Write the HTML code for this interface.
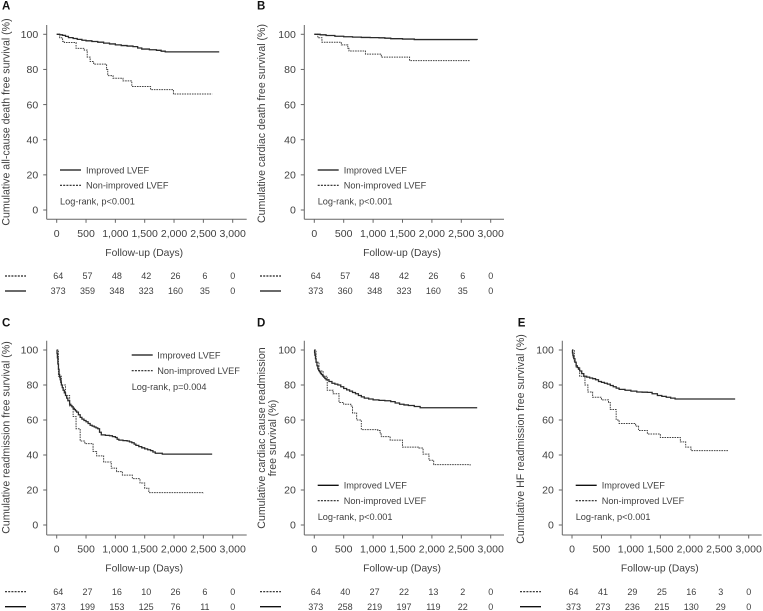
<!DOCTYPE html>
<html lang="en">
<head>
<meta charset="utf-8">
<title>Kaplan-Meier survival curves</title>
<style>
html,body{margin:0;padding:0;background:#fff;}
svg{display:block;font-family:"Liberation Sans",Arial,sans-serif;}
text{fill:#404040;}
</style>
</head>
<body>
<svg id="chart" xmlns="http://www.w3.org/2000/svg" width="763" height="611" viewBox="0 0 763 611"></svg>
<script>
const xTicks = [0, 500, 1000, 1500, 2000, 2500, 3000];
const xTickLabels = ['0', '500', '1,000', '1,500', '2,000', '2,500', '3,000'];
const yTicks = [0, 20, 40, 60, 80, 100];

const aImprovedDays = [0, 50, 100, 150, 200, 280, 350, 430, 500, 600, 700, 800, 900, 1000, 1100, 1200, 1300, 1380, 1450, 1580, 1700, 1780, 1850, 2770];
const aImprovedSurv = [100, 99.7, 99.4, 98.8, 98.1, 97.6, 97.1, 96.6, 96.3, 95.9, 95.5, 95, 94.5, 94, 93.6, 93.3, 93, 92.2, 91.6, 91.2, 90.9, 90.4, 90, 90];
const aNonDays = [0, 50, 100, 130, 330, 470, 520, 570, 630, 850, 870, 960, 1130, 1280, 1600, 1990, 2650];
const aNonSurv = [100, 98, 96, 95.3, 92, 91, 87, 84.5, 83, 80, 76.5, 75, 73.5, 70.3, 68.5, 66, 66];
const aRiskNon = [64, 57, 48, 42, 26, 6, 0];
const aRiskImproved = [373, 359, 348, 323, 160, 35, 0];

const bImprovedDays = [0, 100, 200, 350, 500, 650, 800, 950, 1100, 1200, 1300, 1500, 1700, 2770];
const bImprovedSurv = [100, 99.7, 99.3, 98.9, 98.6, 98.4, 98.2, 98.1, 98, 97.8, 97.5, 97.3, 97, 96.8];
const bNonDays = [0, 60, 130, 460, 570, 590, 870, 1140, 1620, 2650];
const bNonSurv = [100, 98, 95.5, 94, 92, 90.5, 88.7, 87, 85, 85];
const bRiskNon = [64, 57, 48, 42, 26, 6, 0];
const bRiskImproved = [373, 360, 348, 323, 160, 35, 0];

const cImprovedDays = [0, 6, 12, 20, 30, 40, 50, 60, 70, 80, 95, 110, 130, 150, 170, 190, 220, 240, 260, 280, 300, 320, 340, 370, 400, 430, 465, 500, 535, 570, 605, 640, 670, 700, 730, 760, 830, 900, 950, 1000, 1030, 1060, 1130, 1200, 1240, 1280, 1320, 1350, 1400, 1450, 1500, 1550, 1600, 1640, 1680, 1800, 2650];
const cImprovedSurv = [100, 98, 95.5, 92, 89, 86, 84.5, 83, 81.5, 80, 78.5, 77, 75.5, 74, 72.5, 71, 69, 68.3, 67.5, 66.7, 66, 65.2, 64.5, 63, 61.5, 60.5, 59.7, 59, 58, 57, 56.5, 56, 55.5, 55, 53, 51.5, 51.2, 51, 50.5, 50, 49, 48.5, 48.2, 48, 47.5, 47, 46.2, 45.5, 44.8, 44.1, 43.5, 43, 42.5, 41.7, 41, 40.5, 40.5];
const cNonDays = [0, 30, 80, 150, 220, 280, 330, 400, 480, 620, 680, 800, 930, 1020, 1120, 1290, 1420, 1500, 1570, 2500];
const cNonSurv = [100, 85, 80, 74, 68, 62, 55, 48, 46.5, 42, 39.5, 36, 32.5, 30.5, 28.5, 26.5, 24, 21, 18.5, 18];
const cRiskNon = [64, 27, 16, 10, 26, 6, 0];
const cRiskImproved = [373, 199, 153, 125, 76, 11, 0];

const dImprovedDays = [0, 5, 10, 20, 30, 45, 60, 75, 90, 105, 120, 140, 160, 180, 200, 250, 300, 350, 400, 450, 500, 550, 600, 650, 700, 750, 800, 850, 925, 1000, 1100, 1200, 1300, 1375, 1450, 1525, 1600, 1700, 1800, 2770];
const dImprovedSurv = [100, 98.5, 97, 95, 93, 91, 89.2, 88.3, 87.5, 86.7, 86, 85.2, 84.5, 83.7, 83, 82, 81, 80.5, 80, 79, 78, 77.2, 76.5, 75.7, 75, 74, 73.2, 72.5, 72, 71.5, 71.2, 71, 70.5, 69.7, 69, 68.6, 68.3, 67.7, 67, 67];
const dNonDays = [0, 30, 80, 150, 220, 320, 420, 500, 620, 650, 720, 800, 1080, 1120, 1140, 1290, 1500, 1780, 1850, 1950, 2030, 2650];
const dNonSurv = [100, 93, 88, 85, 77, 75, 70, 69, 68, 64, 60, 54.5, 54, 52, 50.5, 48.5, 44.5, 44, 40.5, 37, 34.5, 34];
const dRiskNon = [64, 40, 27, 22, 13, 2, 0];
const dRiskImproved = [373, 258, 219, 197, 119, 22, 0];

const eImprovedDays = [0, 8, 15, 22, 30, 50, 70, 90, 110, 130, 165, 200, 250, 300, 350, 400, 450, 500, 550, 600, 650, 700, 750, 800, 900, 1000, 1100, 1190, 1280, 1360, 1450, 1525, 1600, 1675, 1750, 2770];
const eImprovedSurv = [100, 98.4, 97, 96, 95, 93, 91, 90, 89, 88, 86.5, 85, 84.5, 84, 83.6, 83, 82, 81.5, 81, 80.5, 79.7, 79, 78.2, 77.5, 77, 76.5, 76, 75.9, 75.8, 75, 74, 73.5, 73, 72.5, 72, 72];
const eNonDays = [0, 40, 70, 130, 220, 270, 350, 500, 620, 650, 750, 800, 1080, 1130, 1280, 1500, 1840, 1930, 2020, 2650];
const eNonSurv = [100, 93, 90, 85, 80, 76, 73, 71.5, 70, 66, 60, 58, 56.5, 54, 52, 50, 47.5, 44.5, 42.5, 42.5];
const eRiskNon = [64, 41, 29, 25, 16, 3, 0];
const eRiskImproved = [373, 273, 236, 215, 130, 29, 0];

const panels = [
  {id:'a', letter:'A', letterX:2, letterY:9.5, x0:56.7, x3k:232.7, y100:34.3, y0:210, axL:46.7, axR:246.7, axT:25, axB:219.3,
   title:['Cumulative all-cause death free survival (%)'], titleX:[9.5], titleY:122,
   legX:60, legY:[170,185.3,201], legTextX:86, logrank:'Log-rank, p<0.001', riskLineX:5, riskY:[276,291],
   impD:aImprovedDays, impS:aImprovedSurv, nonD:aNonDays, nonS:aNonSurv, riskN:aRiskNon, riskI:aRiskImproved},
  {id:'b', letter:'B', letterX:257, letterY:9.5, x0:314.3, x3k:490.7, y100:34.3, y0:210, axL:304.3, axR:504, axT:25, axB:219.3,
   title:['Cumulative cardiac death free survival (%)'], titleX:[265], titleY:123.5,
   legX:317.7, legY:[170,185.3,201], legTextX:343.7, logrank:'Log-rank, p<0.001', riskLineX:260, riskY:[276,291],
   impD:bImprovedDays, impS:bImprovedSurv, nonD:bNonDays, nonS:bNonSurv, riskN:bRiskNon, riskI:bRiskImproved},
  {id:'c', letter:'C', letterX:2, letterY:326.5, x0:56.7, x3k:232.7, y100:350, y0:525, axL:46.7, axR:246.7, axT:340.7, axB:535,
   title:['Cumulative readmission free survival (%)'], titleX:[9.5], titleY:437.5,
   legX:131.7, legY:[355,370.7,386.7], legTextX:157.3, logrank:'Log-rank, p=0.004', riskLineX:5, riskY:[591.7,606.7],
   impD:cImprovedDays, impS:cImprovedSurv, nonD:cNonDays, nonS:cNonSurv, riskN:cRiskNon, riskI:cRiskImproved},
  {id:'d', letter:'D', letterX:257, letterY:326.5, x0:314.3, x3k:490.7, y100:350, y0:525, axL:304.3, axR:504, axT:340.7, axB:535,
   title:['Cumulative cardiac cause readmission','free survival (%)'], titleX:[265,276], titleY:438,
   legX:317.7, legY:[485.3,500.7,516.7], legTextX:343.7, logrank:'Log-rank, p<0.001', riskLineX:260, riskY:[591.7,606.7],
   impD:dImprovedDays, impS:dImprovedSurv, nonD:dNonDays, nonS:dNonSurv, riskN:dRiskNon, riskI:dRiskImproved},
  {id:'e', letter:'E', letterX:517.7, letterY:326.5, x0:572, x3k:748.7, y100:350, y0:525, axL:562.3, axR:761.7, axT:340.7, axB:535,
   title:['Cumulative HF readmission free survival (%)'], titleX:[524], titleY:439,
   legX:575.7, legY:[485.3,500.7,516.7], legTextX:601.7, logrank:'Log-rank, p<0.001', riskLineX:520, riskY:[591.7,606.7],
   impD:eImprovedDays, impS:eImprovedSurv, nonD:eNonDays, nonS:eNonSurv, riskN:eRiskNon, riskI:eRiskImproved}
];

const svg = document.getElementById('chart');
const NS = 'http://www.w3.org/2000/svg';

function make(parent, tag, props, content) {
  const el = document.createElementNS(NS, tag);
  for (const k in props) el.setAttribute(k, props[k]);
  if (content !== undefined) el.textContent = content;
  parent.appendChild(el);
  return el;
}
function stepPath(days, surv, xs, ys) {
  let d = 'M' + xs(days[0]).toFixed(2) + ' ' + ys(surv[0]).toFixed(2);
  for (let i = 1; i < days.length; i++) {
    d += 'H' + xs(days[i]).toFixed(2) + 'V' + ys(surv[i]).toFixed(2);
  }
  return d;
}

panels.forEach(function (p) {
  const xs = function (v) { return p.x0 + (p.x3k - p.x0) * v / 3000; };
  const ys = function (v) { return p.y0 + (p.y100 - p.y0) * v / 100; };

  const g = make(svg, 'g', {});
  
  

  const letter = make(g, 'text', {x:p.letterX, y:p.letterY, 'font-size':11.5, 'font-weight':'bold', style:'fill:#111'}, p.letter);
  
  

  const yAxis = make(g, 'path', {d:'M'+p.axL+' '+p.axT+'V'+p.axB, stroke:'#666', 'stroke-width':1, fill:'none'});
  
  

  const xAxis = make(g, 'path', {d:'M'+p.axL+' '+p.axB+'H'+p.axR, stroke:'#666', 'stroke-width':1, fill:'none'});
  
  

  yTicks.forEach(function (t) {
    const tick = make(g, 'line', {x1:p.axL-3.5, x2:p.axL, y1:ys(t), y2:ys(t), stroke:'#666', 'stroke-width':1});
    
    
    const lab = make(g, 'text', {x:p.axL-8.5, y:ys(t)+3.7, 'text-anchor':'end', 'font-size':10.5}, String(t));
    
    
  });

  xTicks.forEach(function (t, i) {
    const tick = make(g, 'line', {x1:xs(t), x2:xs(t), y1:p.axB, y2:p.axB+3.5, stroke:'#666', 'stroke-width':1});
    
    
    const lab = make(g, 'text', {x:xs(t), y:p.axB+17.5, 'text-anchor':'middle', 'font-size':10.5}, xTickLabels[i]);
    
    
  });

  p.title.forEach(function (line, i) {
    const tx = p.titleX[i];
    const t = make(g, 'text', {x:tx, y:p.titleY, transform:'rotate(-90 '+tx+' '+p.titleY+')', 'text-anchor':'middle', 'font-size':10.6}, line);
    
    
  });

  const xt = make(g, 'text', {x:(p.x0+p.x3k)/2-0.5, y:p.axB+36.5, 'text-anchor':'middle', 'font-size':10.3}, 'Follow-up (Days)');
  
  

  const nonLine = make(g, 'path', {d:stepPath(p.nonD, p.nonS, xs, ys), fill:'none', stroke:'#444', 'stroke-width':1, 'stroke-dasharray':'1.6 0.9'});
  
  

  const impLine = make(g, 'path', {d:stepPath(p.impD, p.impS, xs, ys), fill:'none', stroke:'#2a2a2a', 'stroke-width':1.3});
  
  

  const l1 = make(g, 'line', {x1:p.legX, x2:p.legX+21, y1:p.legY[0], y2:p.legY[0], stroke:'#111', 'stroke-width':1.3});
  
  
  const t1 = make(g, 'text', {x:p.legTextX, y:p.legY[0]+3.3, 'font-size':9.2}, 'Improved LVEF');
  
  
  const l2 = make(g, 'line', {x1:p.legX, x2:p.legX+21, y1:p.legY[1], y2:p.legY[1], stroke:'#222', 'stroke-width':1.2, 'stroke-dasharray':'2 1.2'});
  
  
  const t2 = make(g, 'text', {x:p.legTextX, y:p.legY[1]+3.3, 'font-size':9.2}, 'Non-improved LVEF');
  
  
  const t3 = make(g, 'text', {x:p.legX, y:p.legY[2]+3.3, 'font-size':9.2}, p.logrank);
  
  

  const r1 = make(g, 'line', {x1:p.riskLineX, x2:p.riskLineX+21, y1:p.riskY[0], y2:p.riskY[0], stroke:'#222', 'stroke-width':1.2, 'stroke-dasharray':'2 1.2'});
  
  
  const r2 = make(g, 'line', {x1:p.riskLineX, x2:p.riskLineX+21, y1:p.riskY[1], y2:p.riskY[1], stroke:'#111', 'stroke-width':1.3});
  
  

  xTicks.forEach(function (t, i) {
    const dx = xs(t) + (i === xTicks.length - 1 ? 0 : 1.5);
    const a = make(g, 'text', {x:dx, y:p.riskY[0]+3.2, 'text-anchor':'middle', 'font-size':9}, String(p.riskN[i]));
    
    
    const b = make(g, 'text', {x:dx, y:p.riskY[1]+3.2, 'text-anchor':'middle', 'font-size':9}, String(p.riskI[i]));
    
    
  });
});
</script>
</body>
</html>
